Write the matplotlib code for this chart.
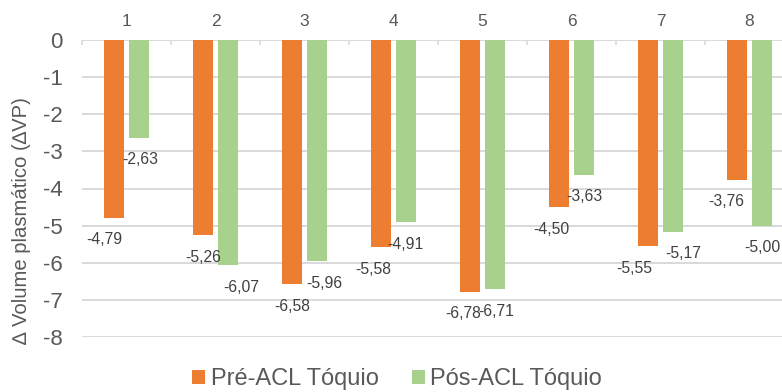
import matplotlib
matplotlib.use("Agg")
import matplotlib.pyplot as plt
import numpy as np

categories = ["1", "2", "3", "4", "5", "6", "7", "8"]
pre_vals = [-4.79, -5.26, -6.58, -5.58, -6.78, -4.50, -5.55, -3.76]
post_vals = [-2.63, -6.07, -5.96, -4.91, -6.71, -3.63, -5.17, -5.00]
series_names = ["Pré-ACL Tóquio", "Pós-ACL Tóquio"]
y_ticks = [0, -1, -2, -3, -4, -5, -6, -7, -8]

# label nudges (pixels) to mimic the original placement
pre_nudge = [-10, 0, 0, -8, -7, -8, -14, -11]
post_nudge = [1, 13, 7, -1, 1, 0, 10, 0]

plt.rcParams['font.family'] = ['Liberation Sans', 'DejaVu Sans']

ORANGE = "#ED7D31"
GREEN = "#A9D18E"
TXT = "#595959"
GRID = "#D9D9D9"

fig = plt.figure(figsize=(7.82, 3.92), dpi=100)
ax = fig.add_axes([82/782, 1-337/392, 712/782, 297/392])

x = np.arange(len(categories))
w = 0.225
off = 0.14
b1 = ax.bar(x - off, pre_vals, w, color=ORANGE, label=series_names[0], zorder=3)
b2 = ax.bar(x + off, post_vals, w, color=GREEN, label=series_names[1], zorder=3)

for xi, v, dx in zip(x - off, pre_vals, pre_nudge):
    ax.annotate(f"{v:.2f}".replace(".", ","), (xi, v), xytext=(dx, -22),
                textcoords="offset pixels", ha="center", va="center",
                fontsize=11.3, color="#404040", zorder=4)
for xi, v, dx in zip(x + off, post_vals, post_nudge):
    ax.annotate(f"{v:.2f}".replace(".", ","), (xi, v), xytext=(dx, -22),
                textcoords="offset pixels", ha="center", va="center",
                fontsize=11.3, color="#404040", zorder=4)

ax.set_xlim(-0.5, len(categories) - 0.5)
ax.set_ylim(-8, 0)
ax.set_yticks(y_ticks)
ax.set_yticklabels([str(t) for t in y_ticks])
ax.yaxis.grid(True, color=GRID, linewidth=1.4, zorder=0)
ax.set_axisbelow(True)
for s in ax.spines.values():
    s.set_visible(False)

ax.xaxis.tick_top()
ax.set_xticks(x)
ax.set_xticklabels(categories)
ax.set_xticks(np.arange(-0.5, len(categories)), minor=True)
ax.tick_params(axis="x", which="major", length=0, pad=8, labelsize=12.5, labelcolor=TXT)
ax.tick_params(axis="x", which="minor", direction="in", length=3.5, width=1.2, color=GRID)
ax.tick_params(axis="y", length=0, pad=14, labelsize=16, labelcolor=TXT)

fig.text(22/782, 1-221/392, "∆ Volume plasmático (∆VP)", rotation=90,
         ha="center", va="center", fontsize=14.6, color=TXT)

fig.legend(handles=[b1, b2], labels=series_names, loc="center",
           bbox_to_anchor=(397/782, 1-379/392), ncol=2, frameon=False,
           fontsize=17, labelcolor=TXT, handlelength=0.55, handleheight=0.55,
           handletextpad=0.25, columnspacing=1.4, borderpad=0)

fig.savefig("out.png", dpi=100)
